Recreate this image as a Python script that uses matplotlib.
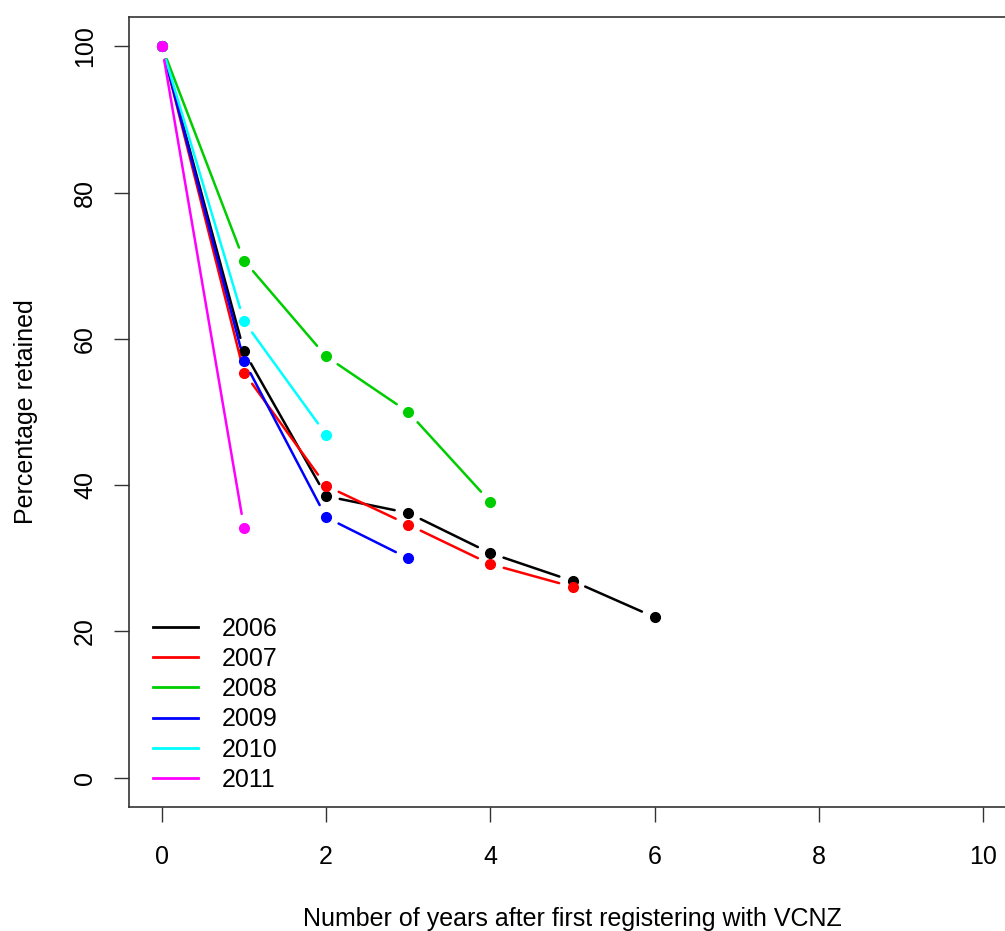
import matplotlib.pyplot as plt
from matplotlib.lines import Line2D

plt.rcParams['font.family'] = ['Liberation Sans', 'DejaVu Sans']

years_after = [0, 1, 2, 3, 4, 5, 6]
cohorts = ['2006', '2007', '2008', '2009', '2010', '2011']
colors = ['#000000', '#FF0000', '#00CD00', '#0000FF', '#00FFFF', '#FF00FF']

ret_2006 = [100, 58.3, 38.5, 36.2, 30.7, 26.9, 21.95]
ret_2007 = [100, 55.4, 39.9, 34.6, 29.2, 26.1]
ret_2008 = [100, 70.7, 57.6, 50.0, 37.7]
ret_2009 = [100, 57.0, 35.6, 30.0]
ret_2010 = [100, 62.4, 46.9]
ret_2011 = [100, 34.2]
series = [ret_2006, ret_2007, ret_2008, ret_2009, ret_2010, ret_2011]

fig = plt.figure(figsize=(10.05, 9.31), dpi=100)
ax = fig.add_axes([129 / 1005, (931 - 807) / 931, 887 / 1005, 790 / 931])
ax.set_xlim(-0.4, 10.4)
ax.set_ylim(-4, 104)

# R type="b": points joined by lines that stop short of each point
for vals, c in zip(series, colors):
    xs = years_after[:len(vals)]
    ax.plot(xs, vals, 'o', color=c, markersize=7, zorder=3)
    for i in range(len(vals) - 1):
        ax.annotate('', xy=(xs[i + 1], vals[i + 1]), xytext=(xs[i], vals[i]),
                    arrowprops=dict(arrowstyle='-', color=c, lw=1.8,
                                    shrinkA=10, shrinkB=10))

ax.set_xticks([0, 2, 4, 6, 8, 10])
ax.set_yticks([0, 20, 40, 60, 80, 100])
ax.tick_params(labelsize=18, length=11, width=1, direction='out',
               colors='#333333', labelcolor='black')
ax.tick_params(axis='x', pad=16)
ax.tick_params(axis='y', pad=12)
for lab in ax.get_yticklabels():
    lab.set_rotation(90)
    lab.set_va('center')
for s in ax.spines.values():
    s.set_linewidth(1.2)
    s.set_color('#333333')

ax.set_xlabel('Number of years after first registering with VCNZ', fontsize=18)
ax.set_ylabel('Percentage retained', fontsize=18)
ax.xaxis.set_label_coords(0.5, -0.127)
ax.yaxis.set_label_coords(-0.103, 0.5)

handles = [Line2D([], [], color=c, lw=2) for c in colors]
ax.legend(handles, cohorts, loc='upper left', bbox_to_anchor=(0.027, 0.241),
          frameon=False, fontsize=18, handlelength=1.8, handletextpad=0.96,
          labelspacing=0.25, borderpad=0, borderaxespad=0)

fig.savefig('out.png', dpi=100)
